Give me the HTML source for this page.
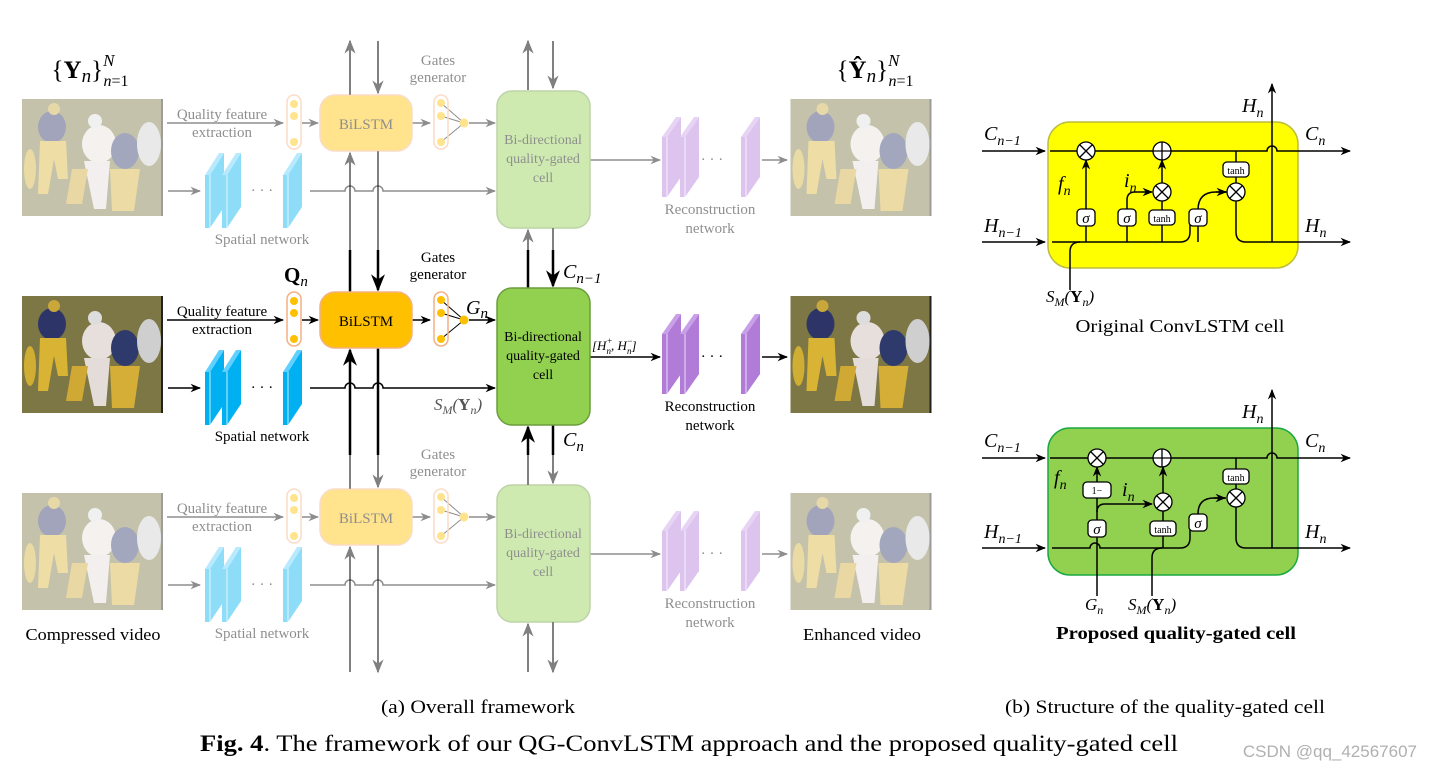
<!DOCTYPE html>
<html><head><meta charset="utf-8"><style>
html,body{margin:0;padding:0;background:#fff}
svg{display:block}
text{font-family:"Liberation Serif",serif}
.m{font-style:italic}
</style></head><body>
<svg width="1432" height="772" viewBox="0 0 1432 772" xmlns="http://www.w3.org/2000/svg">
<defs>
<marker id="a" viewBox="0 0 10 10" refX="9" refY="5" markerWidth="7" markerHeight="7" orient="auto-start-reverse"><path d="M0,1 L10,5 L0,9 L3,5z" fill="#000"/></marker>
<marker id="g" viewBox="0 0 10 10" refX="9" refY="5" markerWidth="7" markerHeight="7" orient="auto-start-reverse"><path d="M0,1 L10,5 L0,9 L3,5z" fill="#808080"/></marker>
<symbol id="photo" viewBox="0 0 141 117">
<rect width="141" height="117" fill="#76703f"/>
<rect width="141" height="117" fill="#8c8450" opacity=".35"/>
<ellipse cx="30" cy="28" rx="14" ry="16" fill="#2d3568"/>
<circle cx="32" cy="10" r="6" fill="#c9a73a"/>
<path d="M18,42 L44,42 L46,80 L36,80 L32,60 L26,95 L16,95z" fill="#d9b334"/>
<ellipse cx="77" cy="45" rx="17" ry="19" fill="#e6dfdc"/>
<circle cx="73" cy="22" r="7" fill="#ddd"/>
<path d="M62,62 L88,62 L84,110 L72,110z" fill="#e3dcd8"/>
<ellipse cx="103" cy="52" rx="14" ry="18" fill="#2f3a6c"/>
<path d="M88,70 L118,70 L112,112 L90,112z" fill="#d4ae36"/>
<path d="M50,70 L66,70 L60,105 L44,105z" fill="#cfa933"/>
<ellipse cx="127" cy="45" rx="12" ry="22" fill="#cfcfcf"/>
<ellipse cx="8" cy="70" rx="6" ry="20" fill="#d0ad33"/>
<rect x="139" y="0" width="2" height="117" fill="#222"/>
</symbol>
<g id="blk"><polygon points="5,20 19,-2 19,52 5,73" fill="#00B0F0"/><rect x="0" y="20" width="5" height="53" fill="#00B0F0"/><line x1="5" y1="20" x2="5" y2="73" stroke="#bfefff" stroke-width="1"/><polygon points="0,20 14,-2 19,-2 5,20" fill="#5fd0ff"/></g>
<g id="pblk"><polygon points="5,20 19,0 19,60 5,80" fill="#B07CD8"/><rect x="0" y="20" width="5" height="60" fill="#B07CD8"/><line x1="5" y1="20" x2="5" y2="80" stroke="#ecdcf8" stroke-width="1"/><polygon points="0,20 14,0 19,0 5,20" fill="#c9a0e8"/></g>
</defs>

<!-- headers -->
<text x="90" y="78" font-size="25" text-anchor="middle">{<tspan font-weight="bold">Y</tspan><tspan class="m" font-size="19" dy="4">n</tspan><tspan dy="-4">}</tspan><tspan class="m" font-size="17" dy="-12">N</tspan><tspan font-size="16" dx="-11" dy="20" class="m">n</tspan><tspan font-size="16">=1</tspan></text>
<text x="875" y="78" font-size="25" text-anchor="middle">{<tspan font-weight="bold">Ŷ</tspan><tspan class="m" font-size="19" dy="4">n</tspan><tspan dy="-4">}</tspan><tspan class="m" font-size="17" dy="-12">N</tspan><tspan font-size="16" dx="-11" dy="20" class="m">n</tspan><tspan font-size="16">=1</tspan></text>

<!-- vertical connectors -->
<g stroke="#808080" stroke-width="2" fill="none">
<line x1="350" y1="95" x2="350" y2="41" marker-end="url(#g)"/>
<line x1="378" y1="41" x2="378" y2="93" marker-end="url(#g)"/>
<line x1="528" y1="90" x2="528" y2="41" marker-end="url(#g)"/>
<line x1="553" y1="41" x2="553" y2="88" marker-end="url(#g)"/>
<line x1="350" y1="250" x2="350" y2="153" marker-end="url(#g)"/>
<line x1="378" y1="151" x2="378" y2="250"/>
<line x1="528" y1="250" x2="528" y2="230" marker-end="url(#g)"/>
<line x1="553" y1="228" x2="553" y2="250"/>
<line x1="350" y1="489" x2="350" y2="455"/>
<line x1="378" y1="455" x2="378" y2="487" marker-end="url(#g)"/>
<line x1="528" y1="485" x2="528" y2="455"/>
<line x1="553" y1="455" x2="553" y2="483" marker-end="url(#g)"/>
<line x1="350" y1="672" x2="350" y2="547" marker-end="url(#g)"/>
<line x1="378" y1="545" x2="378" y2="672" marker-end="url(#g)"/>
<line x1="528" y1="672" x2="528" y2="624" marker-end="url(#g)"/>
<line x1="553" y1="622" x2="553" y2="672" marker-end="url(#g)"/>
</g>
<g stroke="#000" stroke-width="2.5" fill="none">
<line x1="350" y1="292" x2="350" y2="250"/>
<line x1="378" y1="250" x2="378" y2="290" marker-end="url(#a)"/>
<line x1="528" y1="288" x2="528" y2="250"/>
<line x1="553" y1="250" x2="553" y2="286" marker-end="url(#a)"/>
<line x1="350" y1="455" x2="350" y2="350" marker-end="url(#a)"/>
<line x1="378" y1="348" x2="378" y2="455"/>
<line x1="528" y1="455" x2="528" y2="427" marker-end="url(#a)"/>
<line x1="553" y1="425" x2="553" y2="455"/>
</g>
<text x="563" y="278" font-size="20" class="m">C<tspan font-size="15" dy="5">n−1</tspan></text>
<text x="563" y="446" font-size="20" class="m">C<tspan font-size="15" dy="5">n</tspan></text>

<!-- ROWS -->
<g opacity="0.45" transform="translate(0,-197)">
<use href="#photo" x="22" y="296" width="141" height="117"/><use href="#photo" x="790" y="296" width="142" height="117"/>
<g stroke="#000" stroke-width="1.5" fill="none">
<line x1="167" y1="320" x2="283" y2="320" marker-end="url(#a)"/><line x1="302" y1="320" x2="318" y2="320" marker-end="url(#a)"/>
<line x1="412" y1="320" x2="430" y2="320" marker-end="url(#a)"/><line x1="469" y1="320" x2="495" y2="320" marker-end="url(#a)"/>
<line x1="168" y1="388" x2="200" y2="388" marker-end="url(#a)"/>
<path d="M310,388 H345 a5,5 0 0 1 10,0 H373 a5,5 0 0 1 10,0 H495" marker-end="url(#a)"/>
<line x1="590" y1="357" x2="660" y2="357" marker-end="url(#a)"/><line x1="762" y1="357" x2="787" y2="357" marker-end="url(#a)"/>
<path d="M441,300 L464,320 M441,313 L464,320 M441,339 L464,320" stroke-width="1"/>
</g>
<rect x="287" y="292" width="14" height="54" rx="7" fill="#fff" stroke="#f4b183" stroke-width="1.5"/>
<g fill="#FFC000"><circle cx="294" cy="301" r="4"/><circle cx="294" cy="313" r="4"/><circle cx="294" cy="339" r="4"/><circle cx="441" cy="300" r="4"/><circle cx="441" cy="313" r="4"/><circle cx="441" cy="339" r="4"/><circle cx="464" cy="320" r="4.5"/></g>
<rect x="434" y="292" width="14" height="54" rx="7" fill="none" stroke="#f4b183" stroke-width="1.5"/>
<rect x="320" y="292" width="92" height="56" rx="15" fill="#FFC000" stroke="#f4b183" stroke-width="1.5"/>
<rect x="497" y="288" width="93" height="137" rx="15" fill="#92D050" stroke="#6c9e3c" stroke-width="1.5"/>
<use href="#blk" x="205" y="352"/><use href="#blk" x="222" y="352"/><use href="#blk" x="283" y="352"/>
<use href="#pblk" x="662" y="314"/><use href="#pblk" x="680" y="314"/><use href="#pblk" x="741" y="314"/>
<g font-size="15" text-anchor="middle">
<text x="222" y="316">Quality feature</text><text x="222" y="334">extraction</text>
<text x="366" y="326">BiLSTM</text>
<text x="438" y="262">Gates</text><text x="438" y="279">generator</text>
<text x="543" y="341" font-size="14">Bi-directional</text><text x="543" y="360" font-size="14">quality-gated</text><text x="543" y="379" font-size="14">cell</text>
<text x="262" y="441">Spatial network</text>
<text x="710" y="411">Reconstruction</text><text x="710" y="430">network</text>
<text x="262" y="392">· · ·</text><text x="712" y="361">· · ·</text>
</g>
</g>

<g>
<use href="#photo" x="22" y="296" width="141" height="117"/><use href="#photo" x="790" y="296" width="142" height="117"/>
<g stroke="#000" stroke-width="1.5" fill="none">
<line x1="167" y1="320" x2="283" y2="320" marker-end="url(#a)"/><line x1="302" y1="320" x2="318" y2="320" marker-end="url(#a)"/>
<line x1="412" y1="320" x2="430" y2="320" marker-end="url(#a)"/><line x1="469" y1="320" x2="495" y2="320" marker-end="url(#a)"/>
<line x1="168" y1="388" x2="200" y2="388" marker-end="url(#a)"/>
<path d="M310,388 H345 a5,5 0 0 1 10,0 H373 a5,5 0 0 1 10,0 H495" marker-end="url(#a)"/>
<line x1="590" y1="357" x2="660" y2="357" marker-end="url(#a)"/><line x1="762" y1="357" x2="787" y2="357" marker-end="url(#a)"/>
<path d="M441,300 L464,320 M441,313 L464,320 M441,339 L464,320" stroke-width="1"/>
</g>
<rect x="287" y="292" width="14" height="54" rx="7" fill="#fff" stroke="#f4b183" stroke-width="1.5"/>
<g fill="#FFC000"><circle cx="294" cy="301" r="4"/><circle cx="294" cy="313" r="4"/><circle cx="294" cy="339" r="4"/><circle cx="441" cy="300" r="4"/><circle cx="441" cy="313" r="4"/><circle cx="441" cy="339" r="4"/><circle cx="464" cy="320" r="4.5"/></g>
<rect x="434" y="292" width="14" height="54" rx="7" fill="none" stroke="#f4b183" stroke-width="1.5"/>
<rect x="320" y="292" width="92" height="56" rx="15" fill="#FFC000" stroke="#f4b183" stroke-width="1.5"/>
<rect x="497" y="288" width="93" height="137" rx="15" fill="#92D050" stroke="#6c9e3c" stroke-width="1.5"/>
<use href="#blk" x="205" y="352"/><use href="#blk" x="222" y="352"/><use href="#blk" x="283" y="352"/>
<use href="#pblk" x="662" y="314"/><use href="#pblk" x="680" y="314"/><use href="#pblk" x="741" y="314"/>
<g font-size="15" text-anchor="middle">
<text x="222" y="316">Quality feature</text><text x="222" y="334">extraction</text>
<text x="366" y="326">BiLSTM</text>
<text x="438" y="262">Gates</text><text x="438" y="279">generator</text>
<text x="543" y="341" font-size="14">Bi-directional</text><text x="543" y="360" font-size="14">quality-gated</text><text x="543" y="379" font-size="14">cell</text>
<text x="262" y="441">Spatial network</text>
<text x="710" y="411">Reconstruction</text><text x="710" y="430">network</text>
<text x="262" y="392">· · ·</text><text x="712" y="361">· · ·</text>
</g>
<text x="284" y="282" font-size="21" font-weight="bold">Q<tspan class="m" font-weight="normal" font-size="15" dy="4">n</tspan></text>
<text x="466" y="314" font-size="20" class="m">G<tspan font-size="15" dy="4">n</tspan></text>
<text x="434" y="410" font-size="17" class="m" fill="#555">S<tspan font-size="12" dy="4">M</tspan><tspan dy="-4">(</tspan><tspan font-style="normal" font-weight="bold">Y</tspan><tspan font-size="12" dy="4">n</tspan><tspan dy="-4">)</tspan></text>
<text x="592" y="350" font-size="13" class="m">[H<tspan font-size="9" dy="-6">+</tspan><tspan font-size="9" dx="-6" dy="10">n</tspan><tspan dy="-4">, H</tspan><tspan font-size="9" dy="-6">−</tspan><tspan font-size="9" dx="-6" dy="10">n</tspan><tspan dy="-4">]</tspan></text>
</g>

<g opacity="0.45" transform="translate(0,197)">
<use href="#photo" x="22" y="296" width="141" height="117"/><use href="#photo" x="790" y="296" width="142" height="117"/>
<g stroke="#000" stroke-width="1.5" fill="none">
<line x1="167" y1="320" x2="283" y2="320" marker-end="url(#a)"/><line x1="302" y1="320" x2="318" y2="320" marker-end="url(#a)"/>
<line x1="412" y1="320" x2="430" y2="320" marker-end="url(#a)"/><line x1="469" y1="320" x2="495" y2="320" marker-end="url(#a)"/>
<line x1="168" y1="388" x2="200" y2="388" marker-end="url(#a)"/>
<path d="M310,388 H345 a5,5 0 0 1 10,0 H373 a5,5 0 0 1 10,0 H495" marker-end="url(#a)"/>
<line x1="590" y1="357" x2="660" y2="357" marker-end="url(#a)"/><line x1="762" y1="357" x2="787" y2="357" marker-end="url(#a)"/>
<path d="M441,300 L464,320 M441,313 L464,320 M441,339 L464,320" stroke-width="1"/>
</g>
<rect x="287" y="292" width="14" height="54" rx="7" fill="#fff" stroke="#f4b183" stroke-width="1.5"/>
<g fill="#FFC000"><circle cx="294" cy="301" r="4"/><circle cx="294" cy="313" r="4"/><circle cx="294" cy="339" r="4"/><circle cx="441" cy="300" r="4"/><circle cx="441" cy="313" r="4"/><circle cx="441" cy="339" r="4"/><circle cx="464" cy="320" r="4.5"/></g>
<rect x="434" y="292" width="14" height="54" rx="7" fill="none" stroke="#f4b183" stroke-width="1.5"/>
<rect x="320" y="292" width="92" height="56" rx="15" fill="#FFC000" stroke="#f4b183" stroke-width="1.5"/>
<rect x="497" y="288" width="93" height="137" rx="15" fill="#92D050" stroke="#6c9e3c" stroke-width="1.5"/>
<use href="#blk" x="205" y="352"/><use href="#blk" x="222" y="352"/><use href="#blk" x="283" y="352"/>
<use href="#pblk" x="662" y="314"/><use href="#pblk" x="680" y="314"/><use href="#pblk" x="741" y="314"/>
<g font-size="15" text-anchor="middle">
<text x="222" y="316">Quality feature</text><text x="222" y="334">extraction</text>
<text x="366" y="326">BiLSTM</text>
<text x="438" y="262">Gates</text><text x="438" y="279">generator</text>
<text x="543" y="341" font-size="14">Bi-directional</text><text x="543" y="360" font-size="14">quality-gated</text><text x="543" y="379" font-size="14">cell</text>
<text x="262" y="441">Spatial network</text>
<text x="710" y="411">Reconstruction</text><text x="710" y="430">network</text>
<text x="262" y="392">· · ·</text><text x="712" y="361">· · ·</text>
</g>
</g>

<g font-size="17" text-anchor="middle">
<text x="93" y="640" textLength="135" lengthAdjust="spacingAndGlyphs">Compressed video</text>
<text x="862" y="640" textLength="118" lengthAdjust="spacingAndGlyphs">Enhanced video</text>
<text x="478" y="713" font-size="19" textLength="194" lengthAdjust="spacingAndGlyphs">(a)  Overall framework</text>
<text x="1165" y="713" font-size="19" textLength="320" lengthAdjust="spacingAndGlyphs">(b)  Structure of the quality-gated cell</text>
<text x="689" y="751" font-size="23" textLength="978" lengthAdjust="spacingAndGlyphs"><tspan font-weight="bold">Fig. 4</tspan>. The framework of our QG-ConvLSTM approach and the proposed quality-gated cell</text>
<text x="1180" y="332" font-size="18" textLength="209" lengthAdjust="spacingAndGlyphs">Original ConvLSTM cell</text>
<text x="1176" y="639" font-size="18" font-weight="bold" textLength="240" lengthAdjust="spacingAndGlyphs">Proposed quality-gated cell</text>
</g>
<text x="1417" y="757" font-size="17" text-anchor="end" fill="#b0b0b0" style="font-family:'Liberation Sans',sans-serif">CSDN @qq_42567607</text>

<!-- Original ConvLSTM cell -->
<rect x="1048" y="122" width="250" height="146" rx="22" fill="#FFFF00" stroke="#bcbc40" stroke-width="1.5"/>
<g stroke="#000" stroke-width="1.5" fill="none">
<line x1="982" y1="151" x2="1045" y2="151" marker-end="url(#a)"/>
<path d="M1050,151 H1267 a5,5 0 0 1 10,0 H1350" marker-end="url(#a)"/>
<line x1="982" y1="242" x2="1045" y2="242" marker-end="url(#a)"/>
<path d="M1052,242 H1180 q10,0 10,-10 V222 M1198,210 q0,-18 18,-18 H1228" />
<line x1="1216" y1="192" x2="1226" y2="192" marker-end="url(#a)"/>
<path d="M1236,200 V232 q0,10 10,10 H1350" marker-end="url(#a)"/>
<line x1="1272" y1="242" x2="1272" y2="84" marker-end="url(#a)"/>
<path d="M1070,290 V252 q0,-10 10,-10"/>
<line x1="1086" y1="242" x2="1086" y2="226"/><line x1="1086" y1="210" x2="1086" y2="160" marker-end="url(#a)"/>
<line x1="1127" y1="242" x2="1127" y2="226"/><path d="M1127,210 V200 q0,-8 8,-8 H1152" marker-end="url(#a)"/>
<line x1="1162" y1="242" x2="1162" y2="201"/><line x1="1162" y1="183" x2="1162" y2="160" marker-end="url(#a)"/>
<line x1="1236" y1="151" x2="1236" y2="184"/>
<line x1="1198" y1="242" x2="1198" y2="226"/>
</g>
<g stroke="#000" stroke-width="1.3" fill="#fff">
<circle cx="1086" cy="151" r="9"/><circle cx="1162" cy="151" r="9"/><circle cx="1162" cy="192" r="9"/><circle cx="1236" cy="192" r="9"/>
<rect x="1077" y="209" width="18" height="17" rx="4"/><rect x="1118" y="209" width="18" height="17" rx="4"/><rect x="1149" y="210" width="26" height="15" rx="4"/><rect x="1189" y="209" width="18" height="17" rx="4"/><rect x="1223" y="162" width="26" height="15" rx="4"/>
</g>
<g stroke="#000" stroke-width="1.3">
<path d="M1080,145 L1092,157 M1092,145 L1080,157 M1162,142 V160 M1153,151 H1171 M1156,186 L1168,198 M1168,186 L1156,198 M1230,186 L1242,198 M1242,186 L1230,198"/>
</g>
<g font-size="10" text-anchor="middle" style="font-family:'Liberation Sans',sans-serif"><text x="1162" y="222">tanh</text><text x="1236" y="174">tanh</text></g>
<g font-size="15" class="m" text-anchor="middle"><text x="1086" y="223">σ</text><text x="1127" y="223">σ</text><text x="1198" y="223">σ</text></g>
<g font-size="20" class="m">
<text x="984" y="140">C<tspan font-size="14" dy="5">n−1</tspan></text>
<text x="984" y="232">H<tspan font-size="14" dy="5">n−1</tspan></text>
<text x="1305" y="140">C<tspan font-size="14" dy="5">n</tspan></text>
<text x="1305" y="232">H<tspan font-size="14" dy="5">n</tspan></text>
<text x="1242" y="112">H<tspan font-size="14" dy="5">n</tspan></text>
<text x="1058" y="190">f<tspan font-size="14" dy="5">n</tspan></text>
<text x="1124" y="187">i<tspan font-size="14" dy="5">n</tspan></text>
<text x="1046" y="302" font-size="17">S<tspan font-size="12" dy="4">M</tspan><tspan dy="-4">(</tspan><tspan font-style="normal" font-weight="bold">Y</tspan><tspan font-size="12" dy="4">n</tspan><tspan dy="-4">)</tspan></text>
</g>

<!-- Proposed cell -->
<rect x="1048" y="428" width="250" height="147" rx="22" fill="#92D050" stroke="#1aa840" stroke-width="1.5"/>
<g stroke="#000" stroke-width="1.5" fill="none">
<line x1="982" y1="458" x2="1045" y2="458" marker-end="url(#a)"/>
<path d="M1050,458 H1267 a5,5 0 0 1 10,0 H1350" marker-end="url(#a)"/>
<line x1="982" y1="548" x2="1045" y2="548" marker-end="url(#a)"/>
<path d="M1052,548 H1090 a5,5 0 0 1 10,0 H1180 q10,0 10,-10 V530 M1198,514 q0,-16 16,-16 H1226"/>
<line x1="1214" y1="498" x2="1225" y2="498" marker-end="url(#a)"/>
<path d="M1236,506 V538 q0,10 10,10 H1350" marker-end="url(#a)"/>
<line x1="1272" y1="548" x2="1272" y2="390" marker-end="url(#a)"/>
<path d="M1097,596 V536"/>
<path d="M1097,520 V498"/><line x1="1097" y1="482" x2="1097" y2="467" marker-end="url(#a)"/>
<path d="M1097,512 q0,-8 8,-8 H1152" marker-end="url(#a)"/>
<path d="M1152,596 V558 q0,-10 10,-10"/>
<line x1="1163" y1="548" x2="1163" y2="536"/><line x1="1163" y1="521" x2="1163" y2="511"/><line x1="1163" y1="493" x2="1163" y2="467" marker-end="url(#a)"/>
<line x1="1236" y1="458" x2="1236" y2="490"/>
</g>
<g stroke="#000" stroke-width="1.3" fill="#fff">
<circle cx="1097" cy="458" r="9"/><circle cx="1162" cy="458" r="9"/><circle cx="1163" cy="502" r="9"/><circle cx="1236" cy="498" r="9"/>
<rect x="1083" y="482" width="28" height="16" rx="4"/><rect x="1088" y="520" width="18" height="17" rx="4"/><rect x="1150" y="521" width="26" height="15" rx="4"/><rect x="1189" y="514" width="18" height="17" rx="4"/><rect x="1223" y="469" width="26" height="15" rx="4"/>
</g>
<g stroke="#000" stroke-width="1.3">
<path d="M1091,452 L1103,464 M1103,452 L1091,464 M1162,449 V467 M1153,458 H1171 M1157,496 L1169,508 M1169,496 L1157,508 M1230,492 L1242,504 M1242,492 L1230,504"/>
</g>
<g font-size="10" text-anchor="middle" style="font-family:'Liberation Sans',sans-serif"><text x="1163" y="533">tanh</text><text x="1236" y="481">tanh</text><text x="1097" y="494">1−</text></g>
<g font-size="15" class="m" text-anchor="middle"><text x="1097" y="534">σ</text><text x="1198" y="528">σ</text></g>
<g font-size="20" class="m">
<text x="984" y="447">C<tspan font-size="14" dy="5">n−1</tspan></text>
<text x="984" y="538">H<tspan font-size="14" dy="5">n−1</tspan></text>
<text x="1305" y="447">C<tspan font-size="14" dy="5">n</tspan></text>
<text x="1305" y="538">H<tspan font-size="14" dy="5">n</tspan></text>
<text x="1242" y="418">H<tspan font-size="14" dy="5">n</tspan></text>
<text x="1054" y="484">f<tspan font-size="14" dy="5">n</tspan></text>
<text x="1122" y="496">i<tspan font-size="14" dy="5">n</tspan></text>
<text x="1085" y="610" font-size="17">G<tspan font-size="12" dy="4">n</tspan></text>
<text x="1128" y="610" font-size="17">S<tspan font-size="12" dy="4">M</tspan><tspan dy="-4">(</tspan><tspan font-style="normal" font-weight="bold">Y</tspan><tspan font-size="12" dy="4">n</tspan><tspan dy="-4">)</tspan></text>
</g>
</svg>
</body></html>
